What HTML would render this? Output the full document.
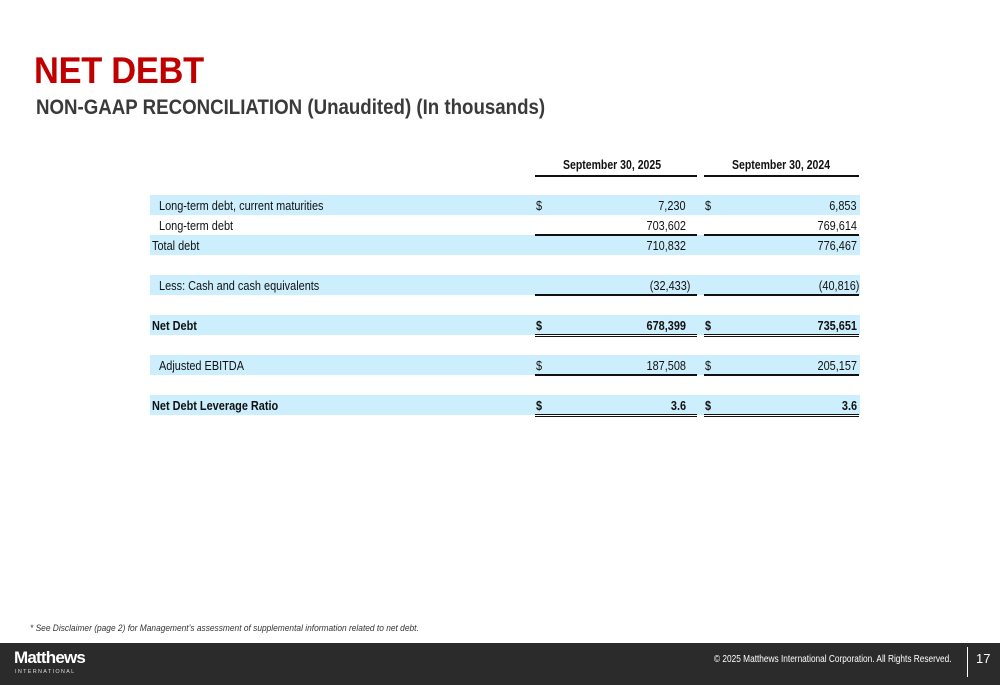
<!DOCTYPE html>
<html><head><meta charset="utf-8"><style>
body{margin:0;width:1000px;height:685px;position:relative;background:#fff;font-family:"Liberation Sans",Arial,sans-serif;overflow:hidden}
.a{position:absolute;white-space:nowrap}
h1{position:absolute;left:34px;top:50px;margin:0;font-size:37px;color:#c00000;font-weight:bold;letter-spacing:-0.3px;transform:scaleX(.93);transform-origin:left;white-space:nowrap}
h2{position:absolute;left:36px;top:96px;margin:0;font-size:21px;color:#3a3a3a;font-weight:bold;transform:scaleX(.89);transform-origin:left;white-space:nowrap}
.band{position:absolute;left:150px;width:710px;height:20px;background:#cdeefc}
.t{position:absolute;font-size:13px;color:#111;line-height:20px;transform:scaleX(.84);transform-origin:left;white-space:nowrap}
.r{transform-origin:right;text-align:right}
.ln{position:absolute;height:2px;background:#111}
.dl{position:absolute;height:1px;border-top:1.5px solid #111;border-bottom:1.5px solid #111}
</style></head><body>
<h1>NET DEBT</h1>
<h2>NON-GAAP RECONCILIATION (Unaudited) (In thousands)</h2>
<div class="t" style="left:563px;top:155px;font-weight:bold;font-size:12.5px">September 30, 2025</div>
<div class="t" style="left:732px;top:155px;font-weight:bold;font-size:12.5px">September 30, 2024</div>
<div class="ln" style="left:535px;width:162px;top:175px"></div>
<div class="ln" style="left:704px;width:155px;top:175px"></div>

<div class="band" style="top:195px"></div>
<div class="band" style="top:235px"></div>
<div class="band" style="top:275px"></div>
<div class="band" style="top:315px"></div>
<div class="band" style="top:355px"></div>
<div class="band" style="top:395px"></div>

<div class="t" style="left:159px;top:196px">Long-term debt, current maturities</div>
<div class="t" style="left:159px;top:216px">Long-term debt</div>
<div class="t" style="left:152px;top:236px">Total debt</div>
<div class="t" style="left:159px;top:276px">Less: Cash and cash equivalents</div>
<div class="t" style="left:152px;top:316px;font-weight:bold">Net Debt</div>
<div class="t" style="left:159px;top:356px">Adjusted EBITDA</div>
<div class="t" style="left:152px;top:396px;font-weight:bold">Net Debt Leverage Ratio</div>

<div class="t" style="left:536px;top:196px">$</div><div class="t" style="left:705px;top:196px">$</div>
<div class="t" style="left:536px;top:316px;font-weight:bold">$</div><div class="t" style="left:705px;top:316px;font-weight:bold">$</div>
<div class="t" style="left:536px;top:356px">$</div><div class="t" style="left:705px;top:356px">$</div>
<div class="t" style="left:536px;top:396px;font-weight:bold">$</div><div class="t" style="left:705px;top:396px;font-weight:bold">$</div>

<div class="t r" style="right:314px;top:196px">7,230</div><div class="t r" style="right:143px;top:196px">6,853</div>
<div class="t r" style="right:314px;top:216px">703,602</div><div class="t r" style="right:143px;top:216px">769,614</div>
<div class="t r" style="right:314px;top:236px">710,832</div><div class="t r" style="right:143px;top:236px">776,467</div>
<div class="t r" style="right:310px;top:276px">(32,433)</div><div class="t r" style="right:141px;top:276px">(40,816)</div>
<div class="t r" style="right:314px;top:316px;font-weight:bold">678,399</div><div class="t r" style="right:143px;top:316px;font-weight:bold">735,651</div>
<div class="t r" style="right:314px;top:356px">187,508</div><div class="t r" style="right:143px;top:356px">205,157</div>
<div class="t r" style="right:314px;top:396px;font-weight:bold">3.6</div><div class="t r" style="right:143px;top:396px;font-weight:bold">3.6</div>

<div class="ln" style="left:535px;width:162px;top:234px;height:1.5px"></div><div class="ln" style="left:704px;width:155px;top:234px;height:1.5px"></div>
<div class="ln" style="left:535px;width:162px;top:294px;height:1.5px"></div><div class="ln" style="left:704px;width:155px;top:294px;height:1.5px"></div>
<div class="dl" style="left:535px;width:162px;top:334px"></div><div class="dl" style="left:704px;width:155px;top:334px"></div>
<div class="ln" style="left:535px;width:162px;top:374px;height:1.5px"></div><div class="ln" style="left:704px;width:155px;top:374px;height:1.5px"></div>
<div class="dl" style="left:535px;width:162px;top:414px"></div><div class="dl" style="left:704px;width:155px;top:414px"></div>

<div class="a" style="left:30px;top:623px;font-size:9px;font-style:italic;color:#333;transform:scaleX(.93);transform-origin:left">* See Disclaimer (page 2) for Management’s assessment of supplemental information related to net debt.</div>

<div class="a" style="left:0;top:643px;width:1000px;height:42px;background:#2b2b2b"></div>
<div class="a" style="left:14px;top:648px;font-size:17px;font-weight:bold;color:#fff;letter-spacing:-0.8px">Matthews</div>
<div class="a" style="left:15px;top:669px;font-size:5.5px;color:#ddd;letter-spacing:1.3px">INTERNATIONAL</div>
<div class="a" style="left:714px;top:653px;font-size:10.5px;color:#fff;transform:scaleX(.79);transform-origin:left">© 2025 Matthews International Corporation. All Rights Reserved.</div>
<div class="a" style="left:967px;top:647px;width:1px;height:30px;background:#fff"></div>
<div class="a" style="left:976px;top:651px;font-size:13px;color:#fff">17</div>
</body></html>
